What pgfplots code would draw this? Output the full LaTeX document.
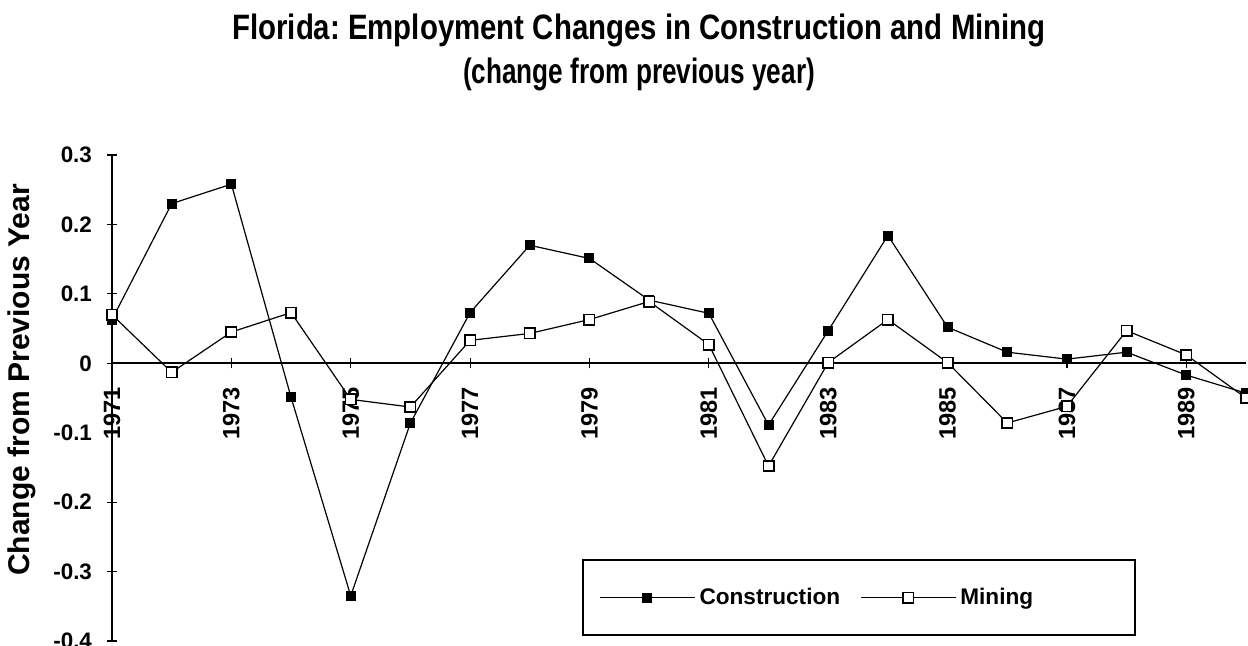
\documentclass[border=0pt]{standalone}
\usepackage{fontspec}
\setmainfont{Liberation Sans}
\usepackage{pgfplots}
\pgfplotsset{compat=1.18}
\frenchspacing
\begin{document}
\begin{tikzpicture}
\begin{axis}[
  scale only axis, width=567pt, height=243pt,
  xmin=1971, xmax=1990, ymin=-0.4, ymax=0.3,
  axis x line=middle, axis y line=left,
  hide obscured x ticks=false,
  axis line style={-, line width=0.6pt},
  x axis line style={line width=1.1pt},
  ytick={-0.4,-0.3,-0.2,-0.1,0,0.1,0.2,0.3},
  yticklabels={-0.4,-0.3,-0.2,-0.1,0,0.1,0.2,0.3},
  xtick={1971,1973,1975,1977,1979,1981,1983,1985,1987,1989},
  xticklabels={1971,1973,1975,1977,1979,1981,1983,1985,1987,1989},
  tick align=center, major tick length=5pt,
  tick style={black, line width=0.6pt},
  x tick label style={rotate=90, anchor=east, font=\fontsize{11.8}{14}\selectfont\bfseries},
  y tick label style={font=\fontsize{11.2}{13}\selectfont\bfseries},
  xticklabel shift=6pt,
  yticklabel shift=4pt,
  ylabel={Change from Previous Year},
  ylabel style={font=\fontsize{15}{17}\selectfont\bfseries, at={(axis description cs:-0.0794,0.537)}, anchor=center},
  legend columns=2,
  legend style={at={(axis description cs:0.4153,0.0895)}, anchor=west, draw=none, fill=none,
    font=\fontsize{11.3}{13}\selectfont\bfseries, inner xsep=8pt, inner ysep=4pt,
    /tikz/every even column/.append style={column sep=8pt}},
  legend image code/.code={\draw[#1, mark repeat=2, mark phase=2] plot coordinates {(0pt,0pt) (23.75pt,0pt) (47.5pt,0pt)};},
]
\coordinate (bl) at (axis description cs:0,0);
\draw[black, line width=0.6pt] (axis description cs:0.4153,0.0123) rectangle (axis description cs:0.9021,0.1667);
\addplot[black, line width=0.6pt, mark=square*, mark size=2.2pt, mark options={fill=black, solid}] coordinates {
(1971,0.063) (1972,0.230) (1973,0.258) (1974,-0.049) (1975,-0.335) (1976,-0.086) (1977,0.073) (1978,0.170) (1979,0.151) (1980,0.091) (1981,0.072) (1982,-0.089) (1983,0.047) (1984,0.184) (1985,0.052) (1986,0.016) (1987,0.006) (1988,0.016) (1989,-0.017) (1990,-0.043)};
\addlegendentry{Construction}
\addplot[black, line width=0.6pt, mark=square*, mark size=2.6pt, mark options={fill=white, draw=black, line width=0.8pt, solid}] coordinates {
(1971,0.070) (1972,-0.013) (1973,0.045) (1974,0.073) (1975,-0.052) (1976,-0.063) (1977,0.033) (1978,0.043) (1979,0.063) (1980,0.089) (1981,0.027) (1982,-0.148) (1983,0.001) (1984,0.063) (1985,0.001) (1986,-0.086) (1987,-0.062) (1988,0.047) (1989,0.012) (1990,-0.050)};
\addlegendentry{Mining}
\end{axis}
\path (bl) ++(263.5pt,301pt) node[anchor=base, inner sep=0pt] {\scalebox{1}[1.2]{\fontsize{14.7}{17}\selectfont\bfseries Florida: Employment Changes in Construction and Mining}};
\path (bl) ++(263.5pt,279pt) node[anchor=base, inner sep=0pt] {\scalebox{0.89}[1.2]{\fontsize{14.7}{17}\selectfont\bfseries (change from previous year)}};
\pgfresetboundingbox
\path[use as bounding box] (bl) ++(-56pt,-2pt) rectangle ++(624pt,322.5pt);
\end{tikzpicture}
\end{document}
